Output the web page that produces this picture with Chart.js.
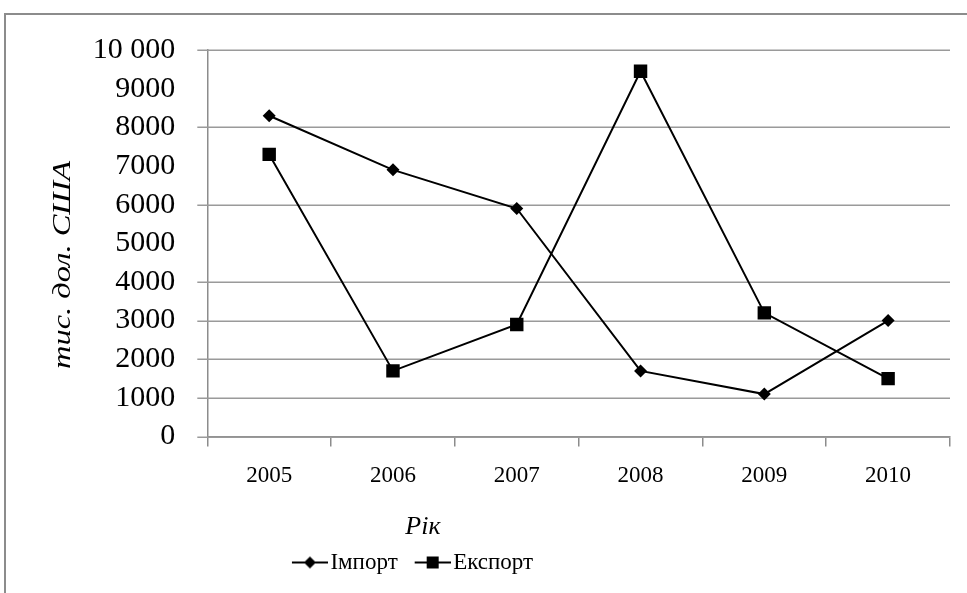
<!DOCTYPE html>
<html>
<head>
<meta charset="utf-8">
<script src="https://cdn.jsdelivr.net/npm/chart.js@4.4.1/dist/chart.umd.min.js"></script>
<style>
  html, body { margin: 0; padding: 0; background: #fff; overflow: hidden; }
  #wrap { position: relative; width: 967px; height: 593px; }
  #frame { position: absolute; left: 4px; top: 13px; width: 1000px; height: 700px; border: 2px solid #8c8c8c; box-sizing: border-box; }
  #chart { position: absolute; left: 0; top: 0; }
</style>
</head>
<body>
<div id="wrap">
  <div id="frame"></div>
  <canvas id="chart" width="967" height="593"></canvas>
</div>
<script>
const years = ['2005', '2006', '2007', '2008', '2009', '2010'];
const importValues = [8300, 6900, 5900, 1700, 1100, 3000];
const exportValues = [7300, 1700, 2900, 9450, 3200, 1500];
// the scan only shows these horizontal grid lines
const gridValues = [0, 1000, 2000, 3000, 4000, 6000, 8000, 10000];

const serif = '"Liberation Serif", "DejaVu Serif", serif';
const yTitle = 'тис. дол. США';
const xTitle = 'Рік';

// legend swatch: short line with the marker in the middle
const makeSwatch = (kind) => {
    const c = document.createElement('canvas');
    c.width = 52; c.height = 16;
    const g = c.getContext('2d');
    g.strokeStyle = '#000';
    g.lineWidth = 2;
    g.beginPath(); g.moveTo(16, 8); g.lineTo(52, 8); g.stroke();
    g.fillStyle = '#000';
    if (kind === 'diamond') {
        g.beginPath();
        g.moveTo(34, 2); g.lineTo(40, 8); g.lineTo(34, 14); g.lineTo(28, 8);
        g.closePath(); g.fill();
    } else {
        g.fillRect(28, 2, 12, 12);
    }
    return c;
};

const gridPlugin = {
    id: 'partialGrid',
    beforeDatasetsDraw(chart) {
        const g = chart.ctx;
        const y = chart.scales.y;
        const area = chart.chartArea;
        g.save();
        g.strokeStyle = '#9a9a9a';
        g.lineWidth = 1.5;
        gridValues.forEach(v => {
            const py = Math.round(y.getPixelForValue(v)) + 0.25;
            g.beginPath();
            g.moveTo(area.left - 10, py);
            g.lineTo(area.right, py);
            g.stroke();
        });
        g.restore();
    }
};

// titles are drawn by hand so they can sit where the scan has them
const titlesPlugin = {
    id: 'titles',
    afterLayout(chart) {
        const lg = chart.legend;
        const w = lg.right - lg.left;
        lg.left = 409 - w / 2;
        lg.right = 409 + w / 2;
    },
    afterDraw(chart) {
        const g = chart.ctx;
        g.save();
        g.fillStyle = '#000';
        g.textAlign = 'center';
        g.textBaseline = 'middle';
        g.font = 'italic 25px ' + serif;
        g.translate(63, 265);
        g.rotate(-Math.PI / 2);
        g.scale(1.3, 1);
        g.fillText(yTitle, 0, 0);
        g.restore();

        g.save();
        g.fillStyle = '#000';
        g.textAlign = 'center';
        g.textBaseline = 'middle';
        g.font = 'italic 26px ' + serif;
        g.fillText(xTitle, 423, 527);
        g.restore();
    }
};

const ctx = document.getElementById('chart').getContext('2d');

new Chart(ctx, {
    type: 'line',
    data: {
        labels: years,
        datasets: [
            {
                label: 'Імпорт',
                data: importValues,
                borderColor: '#000',
                backgroundColor: '#000',
                borderWidth: 2,
                pointStyle: 'rectRot',
                pointRadius: 6.5,
                pointBorderWidth: 0,
                tension: 0
            },
            {
                label: 'Експорт',
                data: exportValues,
                borderColor: '#000',
                backgroundColor: '#000',
                borderWidth: 2,
                pointStyle: 'rect',
                pointRadius: 9.5,
                pointBorderWidth: 0,
                tension: 0
            }
        ]
    },
    options: {
        responsive: false,
        animation: false,
        layout: { padding: { left: 12, right: 17, top: 29, bottom: 9 } },
        scales: {
            x: {
                offset: true,
                grid: {
                    offset: true,
                    drawOnChartArea: false,
                    color: '#8c8c8c',
                    lineWidth: 1.5,
                    tickLength: 10
                },
                border: { color: '#8c8c8c', width: 1.5 },
                ticks: {
                    color: '#000',
                    padding: 16,
                    font: { family: serif, size: 23 }
                },
                title: {
                    display: true,
                    text: xTitle,
                    color: 'rgba(0,0,0,0)',
                    padding: { top: 4, bottom: 2 },
                    font: { family: serif, size: 24, style: 'italic' }
                }
            },
            y: {
                min: 0,
                max: 10000,
                grid: {
                    drawOnChartArea: false,
                    drawTicks: false
                },
                border: { color: '#8c8c8c', width: 1.5 },
                ticks: {
                    stepSize: 1000,
                    autoSkip: false,
                    color: '#000',
                    padding: 32,
                    font: { family: serif, size: 30 },
                    callback: (v) => v === 10000 ? '10 000' : String(v)
                },
                title: {
                    display: true,
                    text: yTitle,
                    color: 'rgba(0,0,0,0)',
                    padding: { top: 0, bottom: 20 },
                    font: { family: serif, size: 24, style: 'italic' }
                }
            }
        },
        plugins: {
            legend: {
                position: 'bottom',
                labels: {
                    color: '#000',
                    usePointStyle: true,
                    pointStyleWidth: 34,
                    padding: 10,
                    font: { family: serif, size: 23 },
                    generateLabels: (chart) => chart.data.datasets.map((ds, i) => ({
                        text: ds.label,
                        datasetIndex: i,
                        fontColor: '#000',
                        pointStyle: makeSwatch(i === 0 ? 'diamond' : 'square'),
                        hidden: false,
                        lineWidth: 0
                    }))
                }
            },
            tooltip: { enabled: false }
        }
    },
    plugins: [gridPlugin, titlesPlugin]
});
</script>
</body>
</html>
